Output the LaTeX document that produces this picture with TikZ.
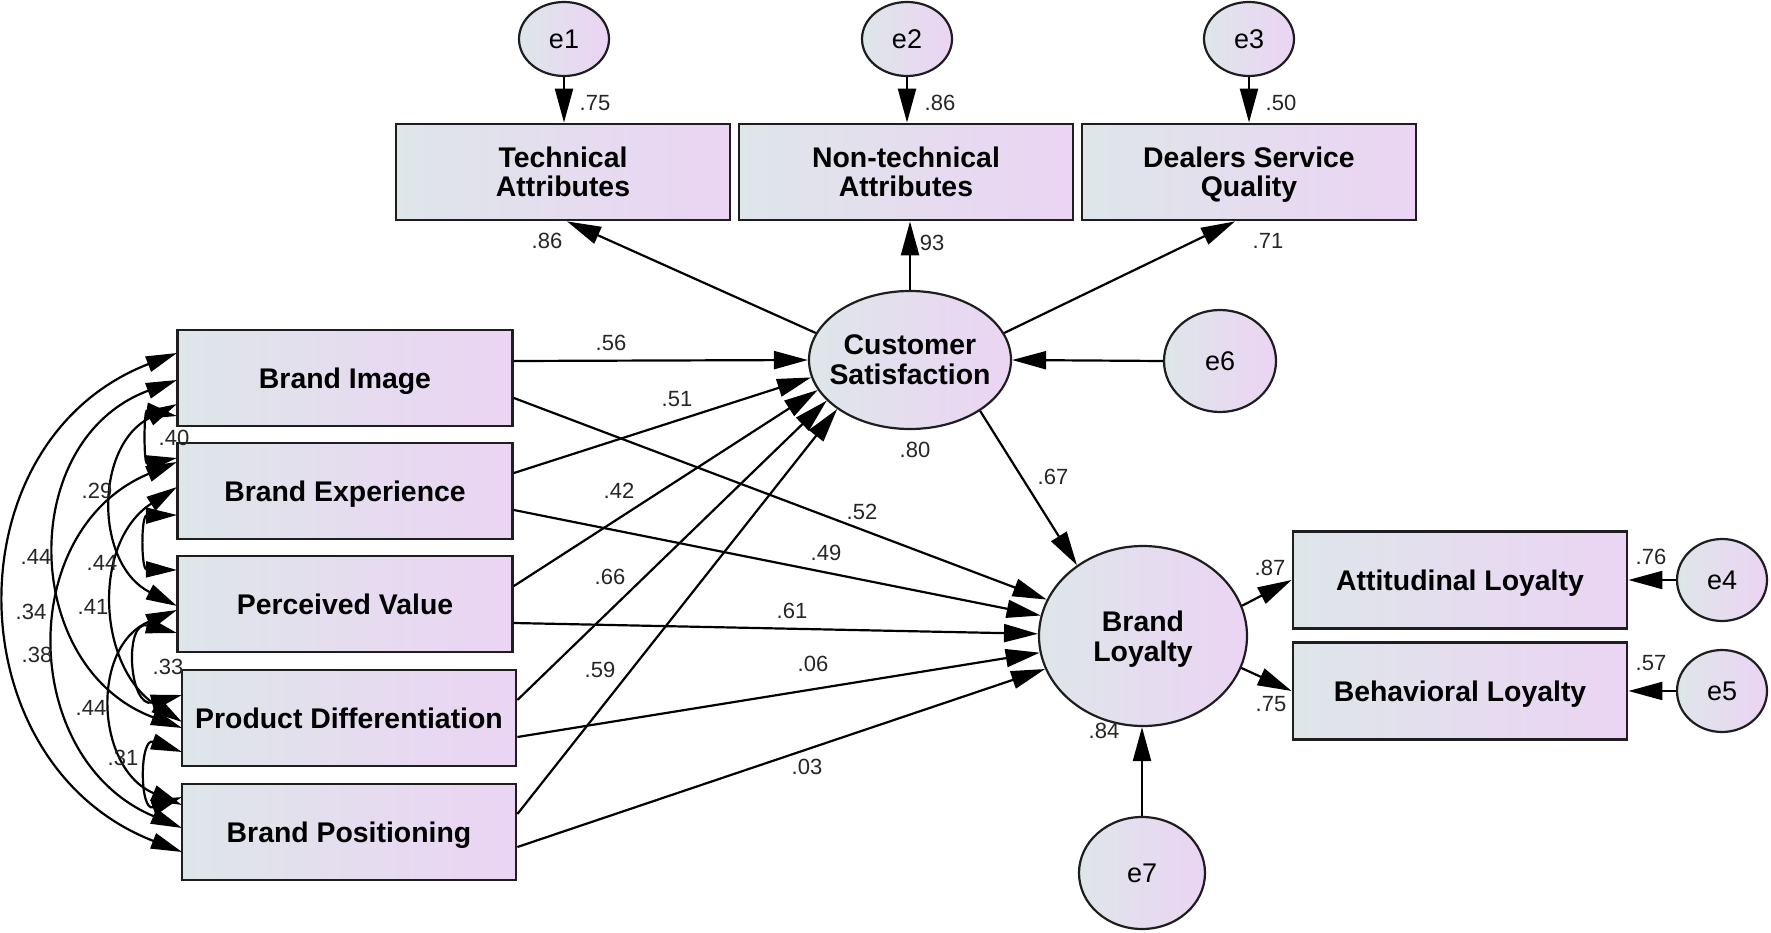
\documentclass[tikz,border=0pt]{standalone}
\usepackage{fontspec}
\setmainfont{Liberation Sans}
\usetikzlibrary{arrows.meta,shapes.geometric,calc}
\definecolor{boxL}{RGB}{222,230,233}
\definecolor{boxR}{RGB}{235,212,244}
\definecolor{edge}{RGB}{30,30,30}
\begin{document}
\begin{tikzpicture}[x=1pt,y=1pt,
  box/.style={draw=edge, line width=2.8pt, left color=boxL, right color=boxR,
    minimum width=334pt, minimum height=96pt, inner sep=0pt, align=center,
    text depth=0pt, font=\fontsize{28.4}{29}\selectfont\bfseries},
  ell/.style={ellipse, draw=edge, line width=2.2pt, left color=boxL, right color=boxR,
    inner sep=0pt, align=center},
  lattext/.style={font=\fontsize{28.4}{30}\selectfont\bfseries, align=center, inner sep=0pt, text depth=0pt},
  err/.style={ell, font=\fontsize{27}{27}\selectfont},
  arr/.style={line width=2.2pt, draw=black, -{Triangle[length=34pt,width=18pt]}},
  cov/.style={line width=2.2pt, draw=black, {Triangle[length=31pt,width=16pt]}-{Triangle[length=31pt,width=16pt]}},
  lab/.style={font=\fontsize{22}{22}\selectfont, text=black!85, inner sep=0pt}
]
\useasboundingbox (0,0) rectangle (1771,-933);
\fill[white] (0,0) rectangle (1771,-933);

% error terms top
\node[err, minimum width=90pt, minimum height=74pt] (e1) at (564,-39) {e1};
\node[err, minimum width=90pt, minimum height=74pt] (e2) at (907,-39) {e2};
\node[err, minimum width=90pt, minimum height=74pt] (e3) at (1249,-39) {e3};

% indicator boxes top
\node[box] (ta) at (563,-172) {Technical\\Attributes};
\node[box] (nta) at (906,-172) {Non-technical\\Attributes};
\node[box] (dsq) at (1249,-172) {Dealers Service\\Quality};

% latent
\node[ell, minimum width=202pt, minimum height=138pt,
  label={[lattext, name=cst]center:Customer\\Satisfaction}] (cs) at (910,-360) {};
\node[err, minimum width=112pt, minimum height=102pt] (e6) at (1220,-361) {e6};
\node[ell, minimum width=208pt, minimum height=180pt,
  label={[lattext, name=blt]center:Brand\\Loyalty}] (bl) at (1143,-636) {};
\node[err, minimum width=126pt, minimum height=112pt] (e7) at (1142,-873) {e7};

% left boxes
\node[box, minimum width=335pt] (bi) at (345,-378) {Brand Image};
\node[box, minimum width=335pt] (be) at (345,-491) {Brand Experience};
\node[box, minimum width=335pt] (pv) at (345,-604) {Perceived Value};
\node[box] (pd) at (349,-718) {Product Differentiation};
\node[box] (bp) at (349,-832) {Brand Positioning};

% right boxes
\node[box, minimum height=97pt] (al) at (1460,-580) {Attitudinal Loyalty};
\node[box, minimum height=97pt] (bel) at (1460,-691) {Behavioral Loyalty};
\node[err, minimum width=90pt, minimum height=82pt] (e4) at (1722,-580) {e4};
\node[err, minimum width=90pt, minimum height=82pt] (e5) at (1722,-691) {e5};

% arrows top
\draw[arr] (e1.south) -- (e1.south |- ta.north);
\draw[arr] (e2.south) -- (e2.south |- nta.north);
\draw[arr] (e3.south) -- (e3.south |- dsq.north);
\draw[arr] (cs.164) -- ($(ta.south)+(4,0)$);
\draw[arr] (cs.north) -- (cs.north |- nta.south);
\draw[arr] (cs.16) -- ($(dsq.south)+(-14,0)$);
\draw[arr] (e6.west) -- (cs.east);

% left -> CS
\draw[arr] ($(bi.east)+(0,17)$) -- (cs.west);
\draw[arr] ($(be.east)+(0,18)$) -- (cs.190);
\draw[arr] ($(pv.east)+(0,18)$) -- (cs.198);
\draw[arr] ($(pd.east)+(0,18)$) -- (cs.206);
\draw[arr] ($(bp.east)+(0,18)$) -- (cs.214);

% left -> BL
\draw[arr] ($(bi.east)+(0,-20)$) -- (bl);
\draw[arr] ($(be.east)+(0,-19)$) -- (bl);
\draw[arr] ($(pv.east)+(0,-19)$) -- (bl);
\draw[arr] ($(pd.east)+(0,-19)$) -- (bl);
\draw[arr] ($(bp.east)+(0,-15)$) -- (bl);

% CS -> BL and outputs
\draw[arr] (cs.-36) -- (bl.133);
\draw[arr] (bl.17) -- (al.west);
\draw[arr] (bl.-18) -- (bel.west);
\draw[arr] (e4.west) -- (al.east);
\draw[arr] (e5.west) -- (bel.east);
\draw[arr] (e7.north) -- (e7.north |- bl.south);

% covariance end points
\coordinate (bi4) at (177,-353); \coordinate (bi3) at (177,-380);
\coordinate (bi2) at (177,-404); \coordinate (bi1) at (177,-416);
\coordinate (beU) at (177,-458); \coordinate (be3) at (177,-462);
\coordinate (be2) at (177,-487); \coordinate (be1) at (177,-515);
\coordinate (pvU1) at (177,-570); \coordinate (pvU2) at (177,-606);
\coordinate (pvD2) at (177,-610); \coordinate (pvD1) at (177,-633);
\coordinate (pdU1) at (182,-695); \coordinate (pdU2) at (182,-722);
\coordinate (pdU3) at (182,-728); \coordinate (pdD1) at (182,-752);
\coordinate (bpU1) at (182,-797); \coordinate (bpU2) at (182,-805);
\coordinate (bpU3) at (182,-828); \coordinate (bpU4) at (182,-852);

\draw[cov] (bi1) .. controls +(-33.3,5.8) and +(-33.3,-5.8) .. (beU);
\draw[cov] (be1) .. controls +(-36,-0.7) and +(-36,0.7) .. (pvU1);
\draw[cov] (pvD1) .. controls +(-53.3,13.7) and +(-53.3,-13.7) .. (pdU1);
\draw[cov] (pdD1) .. controls +(-42.7,15.3) and +(-42.7,-15.3) .. (bpU1);
\draw[cov] (bi2) .. controls +(-82.7,-41.9) and +(-82.7,41.9) .. (pvU2);
\draw[cov] (be2) .. controls +(-85.3,-55.1) and +(-85.3,55.1) .. (pdU2);
\draw[cov] (pvD2) .. controls +(-86.7,-36.1) and +(-86.7,36.1) .. (bpU2);
\draw[cov] (bi3) .. controls +(-161.3,-59.9) and +(-161.3,59.9) .. (pdU3);
\draw[cov] (be3) .. controls +(-162.7,-67.8) and +(-162.7,67.8) .. (bpU3);
\draw[cov] (bi4) .. controls +(-228,-88.2) and +(-228,88.2) .. (bpU4);

% labels
\node[lab] (l1) at (595,-103) {.75};
\node[lab] (l2) at (940,-103) {.86};
\node[lab] (l3) at (1281,-103) {.50};
\node[lab] (l4) at (547,-241) {.86};
\node[lab] (l5) at (929,-243) {.93};
\node[lab] (l6) at (1268,-241) {.71};
\node[lab] (l7) at (915,-450) {.80};
\node[lab] (l8) at (611,-343) {.56};
\node[lab] (l9) at (677,-399) {.51};
\node[lab] (l10) at (619,-491) {.42};
\node[lab] (l11) at (610,-577) {.66};
\node[lab] (l12) at (600,-670) {.59};
\node[lab] (l13) at (862,-512) {.52};
\node[lab] (l14) at (826,-553) {.49};
\node[lab] (l15) at (792,-611) {.61};
\node[lab] (l16) at (813,-664) {.06};
\node[lab] (l17) at (807,-767) {.03};
\node[lab] (l18) at (1053,-477) {.67};
\node[lab] (l19) at (1270,-568) {.87};
\node[lab] (l20) at (1271,-704) {.75};
\node[lab] (l21) at (1651,-557) {.76};
\node[lab] (l22) at (1651,-663) {.57};
\node[lab] (l23) at (1104,-731) {.84};
% covariance labels
\node[lab] (c1) at (174,-438) {.40};
\node[lab] (c2) at (97,-491) {.29};
\node[lab] (c3) at (36,-557) {.44};
\node[lab] (c4) at (102,-563) {.44};
\node[lab] (c5) at (31,-612) {.34};
\node[lab] (c6) at (93,-607) {.41};
\node[lab] (c7) at (37,-655) {.38};
\node[lab] (c8) at (168,-667) {.33};
\node[lab] (c9) at (91,-708) {.44};
\node[lab] (c10) at (123,-758) {.31};
\end{tikzpicture}
\end{document}
